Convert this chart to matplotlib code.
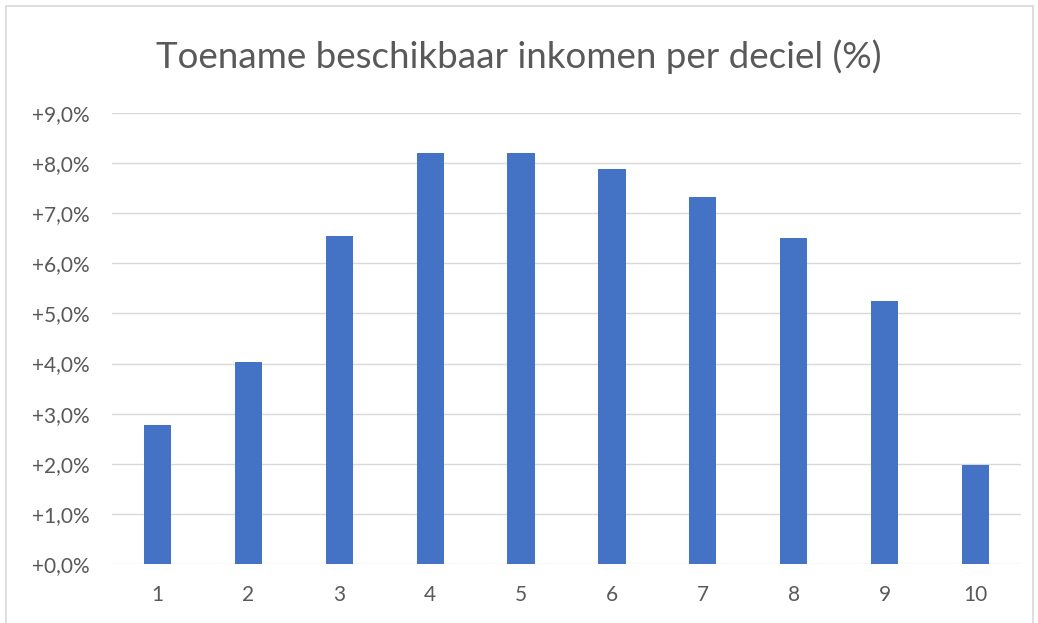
import matplotlib.pyplot as plt
from matplotlib.patches import Rectangle

# deciles and income increase (%)
deciles = [str(i) for i in range(1, 11)]
increase = [2.77, 4.03, 6.55, 8.2, 8.2, 7.88, 7.32, 6.5, 5.25, 1.98]
yticks = list(range(0, 10))

plt.rcParams['font.family'] = ['Lato', 'DejaVu Sans']

fig = plt.figure(figsize=(10.38, 6.23), dpi=100)
ax = fig.add_axes([112 / 1038, 1 - 564 / 623, (1021 - 112) / 1038, (564 - 113) / 623])

x = range(1, len(deciles) + 1)
ax.bar(x, increase, width=0.3, color='#4472C4', zorder=3)

ax.set_xlim(0.5, 10.5)
ax.set_ylim(0, 9)
ax.set_yticks(yticks)
ax.set_yticklabels([f"+{v},0%" for v in yticks], color='#595959', fontsize=15)
ax.set_xticks(list(x))
ax.set_xticklabels(deciles, color='#595959', fontsize=15)
ax.tick_params(length=0)
ax.tick_params(axis='x', pad=15)
ax.tick_params(axis='y', pad=16)

ax.grid(axis='y', color='#D9D9D9', linewidth=1, zorder=0)
for s in ax.spines.values():
    s.set_visible(False)

fig.text(0.5, 1 - 57 / 623, "Toename beschikbaar inkomen per deciel (%)",
         ha='center', va='center', fontsize=26.5, color='#595959')

# light frame around the chart area
fig.patches.append(Rectangle((6 / 1038, -0.01), 1 - 11 / 1038, 1 - 6 / 623 + 0.01,
                             transform=fig.transFigure, fill=False,
                             edgecolor='#D9D9D9', linewidth=1.2))

fig.savefig('out.png', dpi=100)
